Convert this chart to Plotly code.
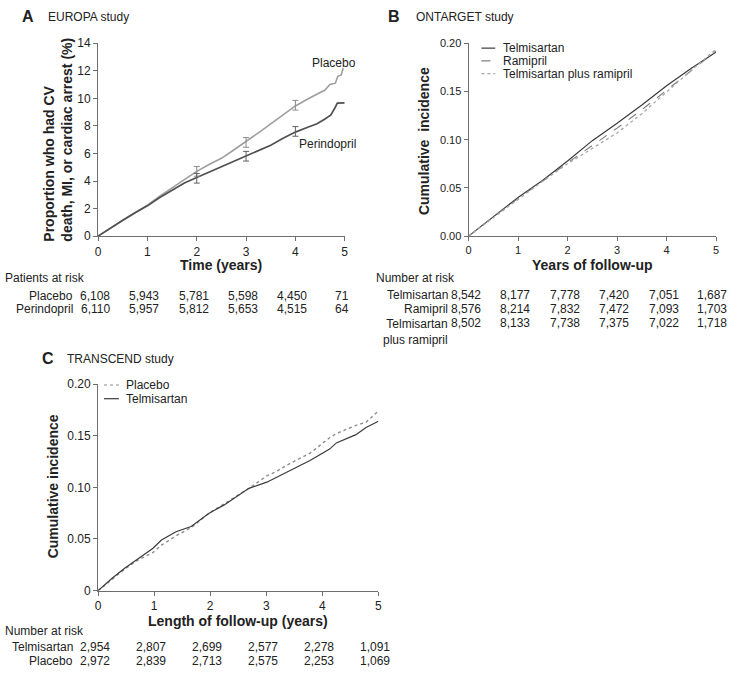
import plotly.graph_objects as go

W, H = 734, 675
FONT = "Liberation Sans, Arial, sans-serif"
TXT = "#222222"
AX = "#6e6e6e"

# ---------------- Panel A : EUROPA ----------------
A_T = [0, 0.25, 0.5, 0.75, 1.0, 1.25, 1.5, 1.75, 2.0, 2.25, 2.5, 2.75, 3.0, 3.25, 3.5,
       3.75, 4.0, 4.25, 4.44, 4.6, 4.7, 4.81, 4.86, 4.93, 4.97]
A_PLACEBO = [0, 0.6, 1.15, 1.7, 2.25, 2.9, 3.5, 4.1, 4.7, 5.2, 5.65, 6.25, 6.85, 7.5, 8.15,
             8.8, 9.45, 9.95, 10.3, 10.6, 11.0, 11.1, 11.6, 11.7, 12.2]
A_PERI_T = [0, 0.25, 0.5, 0.75, 1.0, 1.25, 1.5, 1.75, 2.0, 2.25, 2.5, 2.75, 3.0, 3.25, 3.5,
            3.75, 4.0, 4.25, 4.44, 4.6, 4.72, 4.8, 4.85, 5.0]
A_PERI = [0, 0.6, 1.15, 1.7, 2.2, 2.8, 3.35, 3.85, 4.25, 4.65, 5.05, 5.4, 5.8, 6.2, 6.6,
          7.1, 7.55, 7.9, 8.15, 8.5, 8.8, 9.3, 9.65, 9.67]
A_EB_T = [2, 3, 4]
A_EB_PLACEBO = [4.7, 6.8, 9.5]
A_EB_PERI = [4.2, 5.8, 7.6]
A_EB_HALF = [0.35, 0.35, 0.35]
A_RISK_T = [0, 1, 2, 3, 4, 5]
A_RISK_PLACEBO = [6108, 5943, 5781, 5598, 4450, 71]
A_RISK_PERI = [6110, 5957, 5812, 5653, 4515, 64]

# ---------------- Panel B : ONTARGET ----------------
B_T = [0, 0.5, 1.0, 1.5, 2.0, 2.5, 3.0, 3.5, 4.0, 4.5, 5.0]
B_TELMI = [0, 0.020, 0.040, 0.058, 0.078, 0.099, 0.117, 0.136, 0.156, 0.174, 0.191]
B_RAMI = [0, 0.020, 0.039, 0.057, 0.076, 0.094, 0.112, 0.131, 0.151, 0.171, 0.192]
B_COMBO = [0, 0.019, 0.038, 0.057, 0.075, 0.091, 0.107, 0.127, 0.150, 0.172, 0.194]
B_RISK_T = [0, 1, 2, 3, 4, 5]
B_RISK_TELMI = [8542, 8177, 7778, 7420, 7051, 1687]
B_RISK_RAMI = [8576, 8214, 7832, 7472, 7093, 1703]
B_RISK_COMBO = [8502, 8133, 7738, 7375, 7022, 1718]

# ---------------- Panel C : TRANSCEND ----------------
C_T = [0, 0.25, 0.48, 0.66, 0.98, 1.13, 1.39, 1.66, 1.98, 2.25, 2.48, 2.69, 3.01, 3.2,
       3.42, 3.78, 4.13, 4.25, 4.6, 4.78, 5.0]
C_TELMI = [0, 0.012, 0.022, 0.029, 0.041, 0.049, 0.057, 0.062, 0.075, 0.083, 0.091, 0.099,
           0.105, 0.110, 0.116, 0.126, 0.137, 0.143, 0.151, 0.158, 0.164]
C_PLACEBO = [0, 0.011, 0.021, 0.028, 0.037, 0.044, 0.053, 0.061, 0.075, 0.084, 0.092, 0.099,
             0.111, 0.116, 0.123, 0.133, 0.148, 0.152, 0.160, 0.163, 0.174]
C_RISK_T = [0, 1, 2, 3, 4, 5]
C_RISK_TELMI = [2954, 2807, 2699, 2577, 2278, 1091]
C_RISK_PLACEBO = [2972, 2839, 2713, 2575, 2253, 1069]


def px(x):
    return x / W


def py(y):
    return 1 - y / H


fig = go.Figure()

# Panel A traces
fig.add_trace(go.Scatter(x=A_T, y=A_PLACEBO, mode="lines", line=dict(color="#9e9e9e", width=1.6),
                         xaxis="x", yaxis="y", showlegend=False))
fig.add_trace(go.Scatter(x=A_PERI_T, y=A_PERI, mode="lines", line=dict(color="#505050", width=1.7),
                         xaxis="x", yaxis="y", showlegend=False))
fig.add_trace(go.Scatter(x=A_EB_T, y=A_EB_PLACEBO, mode="markers", marker=dict(size=1, color="#9e9e9e", opacity=0),
                         error_y=dict(type="data", array=A_EB_HALF, color="#8a8a8a", thickness=1, width=3),
                         xaxis="x", yaxis="y", showlegend=False))
fig.add_trace(go.Scatter(x=A_EB_T, y=A_EB_PERI, mode="markers", marker=dict(size=1, color="#505050", opacity=0),
                         error_y=dict(type="data", array=A_EB_HALF, color="#606060", thickness=1, width=3),
                         xaxis="x", yaxis="y", showlegend=False))

# Panel B traces
fig.add_trace(go.Scatter(x=B_T, y=B_TELMI, mode="lines", line=dict(color="#3a3a3a", width=1.2),
                         xaxis="x2", yaxis="y2", showlegend=False))
fig.add_trace(go.Scatter(x=B_T, y=B_RAMI, mode="lines", line=dict(color="#7a7a7a", width=1.1, dash="dash"),
                         xaxis="x2", yaxis="y2", showlegend=False))
fig.add_trace(go.Scatter(x=B_T, y=B_COMBO, mode="lines", line=dict(color="#a8a8a8", width=1.3, dash="dot"),
                         xaxis="x2", yaxis="y2", showlegend=False))

# Panel C traces
fig.add_trace(go.Scatter(x=C_T, y=C_PLACEBO, mode="lines", line=dict(color="#8c8c8c", width=1.4, dash="dot"),
                         xaxis="x3", yaxis="y3", showlegend=False))
fig.add_trace(go.Scatter(x=C_T, y=C_TELMI, mode="lines", line=dict(color="#3a3a3a", width=1.2),
                         xaxis="x3", yaxis="y3", showlegend=False))


def axis_style(size=12):
    return dict(showline=True, linecolor=AX, linewidth=1, ticks="outside", ticklen=4,
                tickcolor=AX, showgrid=False, zeroline=False,
                tickfont=dict(family=FONT, size=size, color=TXT))


fig.update_layout(
    width=W, height=H, margin=dict(l=0, r=0, t=0, b=0),
    paper_bgcolor="white", plot_bgcolor="white",
    font=dict(family=FONT, color=TXT),
    xaxis=dict(domain=[px(96), px(345)], range=[0, 5], tickvals=[0, 1, 2, 3, 4, 5], anchor="y", **axis_style(12)),
    yaxis=dict(domain=[py(234), py(37)], range=[0, 14], tickvals=[0, 2, 4, 6, 8, 10, 12, 14], anchor="x",
               **axis_style(12)),
    xaxis2=dict(domain=[px(470), px(720)], range=[0, 5], tickvals=[0, 1, 2, 3, 4, 5], anchor="y2",
                **axis_style(11)),
    yaxis2=dict(domain=[py(234), py(37)], range=[0, 0.2], tickvals=[0, 0.05, 0.1, 0.15, 0.2],
                ticktext=["0.00", "0.05", "0.10", "0.15", "0.20"], anchor="x2", **axis_style(11)),
    xaxis3=dict(domain=[px(96), px(379)], range=[0, 5], tickvals=[0, 1, 2, 3, 4, 5], anchor="y3",
                **axis_style(12)),
    yaxis3=dict(domain=[py(596), py(385)], range=[0, 0.2], tickvals=[0, 0.05, 0.1, 0.15, 0.2],
                ticktext=["0", "0.05", "0.10", "0.15", "0.20"], anchor="x3", **axis_style(12)),
)

ann = []


def text(x, y, s, size=12, bold=False, xanchor="left", angle=0, xref="paper", xshift=0,
         yanchor="middle", align="left"):
    ann.append(dict(x=x if xref != "paper" else px(x), y=py(y), xref=xref, yref="paper",
                    text=f"<b>{s}</b>" if bold else s, showarrow=False, xanchor=xanchor,
                    yanchor=yanchor, textangle=angle, xshift=xshift, align=align,
                    font=dict(family=FONT, size=size, color=TXT)))


# Panel headings
text(17, 10, "A", 16, True)
text(43, 10, "EUROPA study", 12)
text(387, 10, "B", 16, True)
text(415, 10, "ONTARGET study", 12)
text(37, 359, "C", 16, True)
text(63, 359, "TRANSCEND study", 12)

# Axis titles
text(56, 135, "Proportion who had CV<br>death, MI, or cardiac arrest (%)", 14, True, "center", -90)
text(220, 263, "Time (years)", 14, True, "center")
text(425, 137, "Cumulative  incidence", 14, True, "center", -90)
text(595, 263, "Years of follow-up", 14, True, "center")
text(50, 490, "Cumulative incidence", 14, True, "center", -90)
text(237, 627, "Length of follow-up (years)", 14, True, "center")

# Curve labels panel A
text(358, 57, "Placebo", 12, False, "right")
text(358, 140, "Perindopril", 12, False, "right")

# Legends (drawn manually)
shapes = []
leg_b = [("Telmisartan", 42, "#3a3a3a", "solid"), ("Ramipril", 55, "#7a7a7a", "dash"),
         ("Telmisartan plus ramipril", 68, "#a8a8a8", "dot")]
for name, yy, col, dash in leg_b:
    shapes.append(dict(type="line", xref="paper", yref="paper", x0=px(483), x1=px(497), y0=py(yy), y1=py(yy),
                       line=dict(color=col, width=1.2, dash=dash)))
    text(503, yy, name, 12)

leg_c = [("Placebo", 386, "#8c8c8c", "dot"), ("Telmisartan", 400, "#3a3a3a", "solid")]
for name, yy, col, dash in leg_c:
    shapes.append(dict(type="line", xref="paper", yref="paper", x0=px(102), x1=px(117), y0=py(yy), y1=py(yy),
                       line=dict(color=col, width=1.2, dash=dash)))
    text(122, yy, name, 12)

# Risk tables
text(0, 277, "Patients at risk", 12)
for label, vals, yy in [("Placebo", A_RISK_PLACEBO, 295), ("Perindopril", A_RISK_PERI, 308.5)]:
    text(73, yy, label, 12, False, "right")
    for t, v in zip(A_RISK_T, vals):
        text(t, yy, f"{v:,}", 12, False, "center", xref="x", xshift=-3)

text(375, 277, "Number at risk", 12)
for label, yy in [("Telmisartan", 294.5), ("Ramipril", 308.5)]:
    text(451, yy, label, 12, False, "right")
for vals, yy in [(B_RISK_TELMI, 294.5), (B_RISK_RAMI, 308.5), (B_RISK_COMBO, 322.5)]:
    for t, v in zip(B_RISK_T, vals):
        if t == B_RISK_T[-1]:
            text(t, yy, f"{v:,}", 12, False, "right", xref="x2", xshift=13)
        else:
            text(t, yy, f"{v:,}", 12, False, "center", xref="x2", xshift=-3)
text(451, 315, "Telmisartan<br>plus ramipril", 12, False, "right", yanchor="top", align="right")

text(0, 637, "Number at risk", 12)
for label, vals, yy in [("Telmisartan", C_RISK_TELMI, 654), ("Placebo", C_RISK_PLACEBO, 668)]:
    text(73, yy, label, 12, False, "right")
    for t, v in zip(C_RISK_T, vals):
        text(t, yy, f"{v:,}", 12, False, "center", xref="x3", xshift=-3)

fig.update_layout(annotations=ann, shapes=shapes)
fig.write_html("out.html", config={"displayModeBar": False},
               post_script="document.body.style.margin='0';document.body.style.overflow='hidden';")
